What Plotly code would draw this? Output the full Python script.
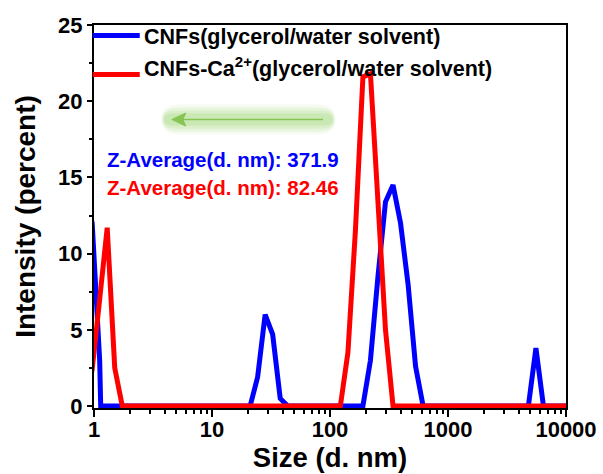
import plotly.graph_objects as go

# DLS size distribution bins (d. nm) and intensity (%) for each sample
size_cnf = [0.8332, 0.9649, 1.117, 1.14, 21.04, 24.36, 28.21, 32.67, 37.84, 43.82,
            190.1, 220.2, 255.0, 295.3, 342.0, 396.1, 458.7, 531.2, 615.1,
            4801, 5560, 6439, 10000]
int_cnf = [14.0, 12.0, 3.0, 0.0, 0.0, 1.9, 6.0, 4.7, 0.5, 0.0,
           0.0, 3.0, 8.5, 13.4, 14.5, 12.0, 8.0, 2.6, 0.0,
           0.0, 3.8, 0.0, 0.0]

size_ca = [0.8332, 0.9649, 1.117, 1.294, 1.499, 1.736, 122.4, 141.8, 164.2,
           190.1, 220.2, 255.0, 295.3, 342.0, 10000]
int_ca = [0.0, 2.4, 7.0, 11.7, 2.5, 0.0, 0.0, 3.5, 11.5,
          21.6, 21.8, 13.6, 5.0, 0.0, 0.0]

names = ["CNFs(glycerol/water solvent)", "CNFs-Ca<sup>2+</sup>(glycerol/water solvent)"]
colors = ["#0000ff", "#ff0000"]
z_labels = ["Z-Average(d. nm): 371.9", "Z-Average(d. nm): 82.46"]

x_tickvals = [1, 10, 100, 1000, 10000]
x_ticktext = ["1", "10", "100", "1000", "10000"]
x_minor = [m * 10 ** d for d in range(4) for m in range(2, 10)]

FONT = "Liberation Sans, Arial, sans-serif"

# plot-area geometry in pixels, used to place decorations in paper units
L, R, T, B = 94.3, 565.7, 25.0, 408.0
def px(xp):
    return (xp - L) / (R - L)
def py(yp):
    return (B - yp) / (B - T)

fig = go.Figure()
for xs, ys, c, n in [(size_cnf, int_cnf, colors[0], names[0]),
                     (size_ca, int_ca, colors[1], names[1])]:
    fig.add_trace(go.Scatter(x=xs, y=ys, mode="lines", name=n,
                             line=dict(color=c, width=5), showlegend=False))

shapes = []
annotations = []

# legend: sample lines and labels
leg_rows = [35.5, 74.5]
for i in range(2):
    shapes.append(dict(type="line", xref="paper", yref="paper",
                       x0=px(93), x1=px(140), y0=py(leg_rows[i]), y1=py(leg_rows[i]),
                       line=dict(color=colors[i], width=5)))
annotations.append(dict(xref="paper", yref="paper", x=px(142), y=py(37),
                        xanchor="left", yanchor="middle", showarrow=False,
                        text=names[0],
                        font=dict(family=FONT, size=21.5, color="black", weight="bold")))
annotations.append(dict(xref="paper", yref="paper", x=px(142), y=py(83),
                        xanchor="left", yanchor="bottom", showarrow=False,
                        text=names[1],
                        font=dict(family=FONT, size=21.5, color="black", weight="bold")))

# soft green glow behind the arrow
glow_layers = [(30, 0.09), (24, 0.13), (18, 0.17), (12, 0.2)]
for w, op in glow_layers:
    x0, x1, yc = 166, 331, 119.5
    h = w / 2
    r = h
    path = (f"M{px(x0 + r)},{py(yc - h)} L{px(x1 - r)},{py(yc - h)} "
            f"Q{px(x1 + r * 0.3)},{py(yc - h)} {px(x1 + r * 0.3)},{py(yc)} "
            f"Q{px(x1 + r * 0.3)},{py(yc + h)} {px(x1 - r)},{py(yc + h)} "
            f"L{px(x0 + r)},{py(yc + h)} "
            f"Q{px(x0 - r * 0.3)},{py(yc + h)} {px(x0 - r * 0.3)},{py(yc)} "
            f"Q{px(x0 - r * 0.3)},{py(yc - h)} {px(x0 + r)},{py(yc - h)} Z")
    shapes.append(dict(type="path", xref="paper", yref="paper", path=path,
                       fillcolor="#8fd163", opacity=op, line=dict(width=0)))

# the arrow itself: shaft plus a filled triangular head pointing left
arrow_green = "#86c554"
shapes.append(dict(type="line", xref="paper", yref="paper",
                   x0=px(183), x1=px(323), y0=py(119.5), y1=py(119.5),
                   line=dict(color=arrow_green, width=1.6)))
shapes.append(dict(type="path", xref="paper", yref="paper",
                   path=(f"M{px(172)},{py(119.5)} L{px(186)},{py(113)} "
                         f"L{px(183)},{py(119.5)} L{px(186)},{py(126)} Z"),
                   fillcolor=arrow_green, line=dict(color=arrow_green, width=1)))

# Z-average readouts
for i, yc in enumerate([159, 187]):
    annotations.append(dict(xref="paper", yref="paper", x=px(105), y=py(yc),
                            xanchor="left", yanchor="middle", showarrow=False,
                            text=z_labels[i],
                            font=dict(family=FONT, size=20.5, color=colors[i], weight="bold")))

axis_common = dict(showline=True, linecolor="black", linewidth=2, mirror=True,
                   showgrid=False, zeroline=False, ticks="outside", tickcolor="black",
                   tickwidth=2, layer="below traces", automargin=False)

fig.update_layout(
    width=603, height=474,
    margin=dict(l=L, r=603 - R, t=T, b=474 - B),
    paper_bgcolor="white", plot_bgcolor="white",
    showlegend=False,
    shapes=shapes, annotations=annotations,
    xaxis=dict(type="log", range=[0, 4], tickvals=x_tickvals, ticktext=x_ticktext,
               ticklen=7, ticklabelstandoff=-6,
               tickfont=dict(family=FONT, size=22, color="black", weight="bold"),
               minor=dict(tickvals=x_minor, ticks="outside", ticklen=4, tickwidth=1.5,
                          tickcolor="black"),
               title=dict(text="Size (d. nm)", standoff=4,
                          font=dict(family=FONT, size=27.5, color="black", weight="bold")),
               **axis_common),
    yaxis=dict(range=[-0.13, 25], tickvals=[0, 5, 10, 15, 20, 25], ticklen=5,
               tickfont=dict(family=FONT, size=22, color="black", weight="bold"),
               minor=dict(tickvals=[2.5, 7.5, 12.5, 17.5, 22.5], ticks="outside",
                          ticklen=3, tickwidth=1.5, tickcolor="black"),
               title=dict(text="Intensity (percent)", standoff=14,
                          font=dict(family=FONT, size=28, color="black", weight="bold")),
               **axis_common),
)

fig.write_html("out.html")
